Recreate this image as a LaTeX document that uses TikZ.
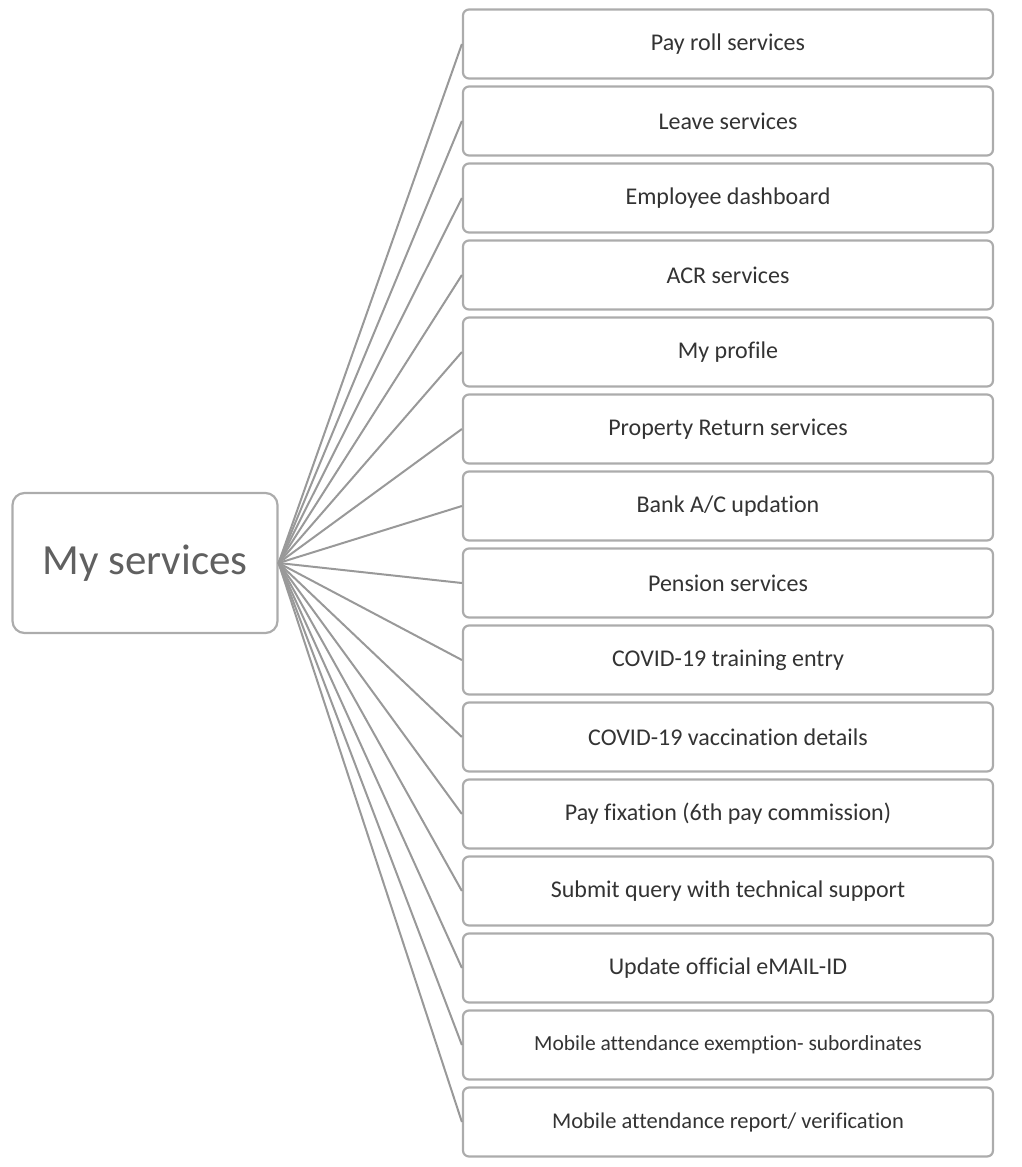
\documentclass[tikz,border=0pt]{standalone}
\usepackage{fontspec}
\setmainfont{Carlito}[Ligatures=NoCommon]
\usetikzlibrary{positioning}

\begin{document}
\begin{tikzpicture}[x=1pt,y=-1pt,
  mainbox/.style={draw=gray!65, line width=2.2pt, rounded corners=12pt,
    minimum width=265pt, minimum height=140pt, text=gray!75!black,
    font=\fontsize{43}{50}\selectfont},
  svcbox/.style={draw=gray!65, line width=2.2pt, rounded corners=6pt,
    minimum width=530pt, minimum height=69pt, text=black!80,
    font=\fontsize{24}{28}\selectfont},
  link/.style={draw=gray!80, line width=2pt}]
\useasboundingbox (0,0) rectangle (1021,1167);

% Centre box
\node[mainbox] (main) at (145,563) {My services};

% Service boxes and links
\foreach \txt [count=\i] in {Pay roll services, Leave services,
  Employee dashboard, ACR services, My profile, Property Return services,
  Bank A/C updation, Pension services, COVID-19 training entry,
  COVID-19 vaccination details, Pay fixation (6th pay commission),
  Submit query with technical support, Update official eMAIL-ID,
  {\fontsize{21.5}{25}\selectfont Mobile attendance exemption- subordinates},
  {\fontsize{22.5}{26}\selectfont Mobile attendance report/ verification}}
{
  \node[svcbox] (s\i) at (728,{44+77*(\i-1)}) {\txt};
  \draw[link] (main.east) -- (s\i.west);
}
\end{tikzpicture}
\end{document}
